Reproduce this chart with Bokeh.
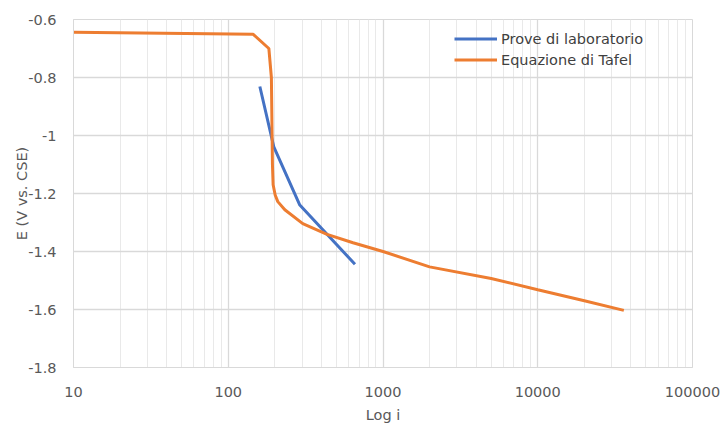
from bokeh.plotting import figure
from bokeh.models import (FixedTicker, BasicTickFormatter, NumeralTickFormatter,
                          Legend, LegendItem, Range1d, Spacer)
from bokeh.layouts import row
from bokeh.embed import file_html
from bokeh.resources import INLINE

# Data
lab_i = [160, 197, 290, 659]
lab_E = [-0.831, -1.039, -1.24, -1.444]

tafel_i = [10, 145, 183, 190, 192, 193, 195, 201, 209, 232, 303, 435, 640,
           1000, 2000, 5000, 10000, 20000, 36000]
tafel_E = [-0.644, -0.651, -0.70, -0.80, -1.0, -1.10, -1.17, -1.205, -1.228,
           -1.256, -1.304, -1.341, -1.37, -1.40, -1.453, -1.493, -1.532,
           -1.57, -1.603]

x_major = [10, 100, 1000, 10000, 100000]
x_minor = [m * d for d in [10, 100, 1000, 10000] for m in range(2, 10)]
y_major = [-1.8, -1.6, -1.4, -1.2, -1.0, -0.8, -0.6]

series_names = ["Prove di laboratorio", "Equazione di Tafel"]
series_colors = ["#4472C4", "#ED7D31"]
y_title = "E (V vs. CSE)"
x_title = "Log i"

FONT = "DejaVu Sans"
TXT = "#595959"

p = figure(width=709, height=425, x_axis_type="log", output_backend="svg",
           toolbar_location=None,
           x_range=Range1d(10, 100000), y_range=Range1d(-1.8, -0.6),
           min_border_left=0, min_border_right=28, min_border_top=19,
           min_border_bottom=53)
p.background_fill_color = "white"
p.border_fill_color = "white"
p.outline_line_color = "#d9d9d9"

p.xaxis.ticker = FixedTicker(ticks=x_major, minor_ticks=x_minor)
p.xaxis.formatter = BasicTickFormatter(use_scientific=False)
p.yaxis.ticker = FixedTicker(ticks=y_major)
p.yaxis.formatter = NumeralTickFormatter(format="0.[0]")

for ax in [p.xaxis[0], p.yaxis[0]]:
    ax.axis_line_color = "#d9d9d9"
    ax.major_tick_line_color = None
    ax.minor_tick_line_color = None
    ax.major_label_text_font = FONT
    ax.major_label_text_font_size = "14.5px"
    ax.major_label_text_color = TXT
    ax.axis_label_text_font = FONT
    ax.axis_label_text_font_size = "14.5px"
    ax.axis_label_text_color = TXT
    ax.axis_label_text_font_style = "normal"

p.xaxis.axis_label = x_title
p.yaxis.axis_label = y_title
p.xaxis.major_label_standoff = 13
p.xaxis.axis_label_standoff = 7
p.yaxis.major_label_standoff = 11
p.yaxis.axis_label_standoff = -5

p.xgrid.grid_line_color = "#d9d9d9"
p.xgrid.minor_grid_line_color = "#e9e9e9"
p.ygrid.grid_line_color = "#d9d9d9"
p.xgrid.grid_line_width = 1.3
p.ygrid.grid_line_width = 1.3

r1 = p.line(lab_i, lab_E, line_color=series_colors[0], line_width=3)
r2 = p.line(tafel_i, tafel_E, line_color=series_colors[1], line_width=3)

legend = Legend(items=[LegendItem(label=series_names[0], renderers=[r1]),
                       LegendItem(label=series_names[1], renderers=[r2])],
                location=(381, 297), orientation="vertical",
                glyph_width=43, glyph_height=21, label_standoff=4,
                padding=0, spacing=0, margin=0,
                border_line_color=None, background_fill_alpha=0,
                label_text_font=FONT, label_text_font_size="14.5px",
                label_text_color="#404040", label_height=21)
p.add_layout(legend)

layout = row(Spacer(width=11, height=425), p)
open("out.html", "w").write(file_html(layout, INLINE))
